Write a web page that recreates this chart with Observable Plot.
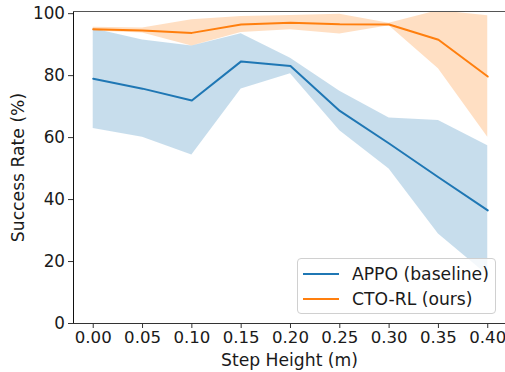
<!DOCTYPE html>
<html>
<head>
<meta charset="utf-8">
<script src="https://cdn.jsdelivr.net/npm/d3@7"></script>
<script src="https://cdn.jsdelivr.net/npm/@observablehq/plot@0.6"></script>
<style>
  html, body { margin: 0; padding: 0; background: #fff; overflow: hidden; }
  #wrap { position: relative; width: 505px; height: 372px; font-family: "DejaVu Sans", sans-serif; }
  #legend { position: absolute; left: 297px; top: 258px; width: 199px; height: 56px;
    border: 1px solid #d0d0d0; border-radius: 4px; background: rgba(255,255,255,0.8); box-sizing: border-box; }
  .item { position: absolute; left: 0; height: 20px; display: flex; align-items: center; font-size: 17.2px; color: #1a1a1a; white-space: nowrap; }
  .sw { width: 36px; height: 2px; margin-left: 5px; margin-right: 13px; }
</style>
</head>
<body>
<div id="wrap"></div>
<script>
const steps = [0.00, 0.05, 0.10, 0.15, 0.20, 0.25, 0.30, 0.35, 0.40];
const appoMean = [79.0, 75.8, 72.0, 84.6, 83.1, 68.6, 58.1, 47.2, 36.5];
const appoStd  = [16.1, 15.7, 17.6, 8.9, 2.5, 6.4, 8.2, 18.3, 20.9];
const ctoMean  = [95.0, 94.6, 93.8, 96.5, 97.1, 96.6, 96.5, 91.6, 79.7];
const ctoStd   = [0.6, 0.8, 4.2, 2.6, 2.3, 3.2, 0.4, 9.4, 19.6];
const seriesNames = ["APPO (baseline)", "CTO-RL (ours)"];
const seriesColors = ["#1f77b4", "#ff7f0e"];
const yTicks = [0, 20, 40, 60, 80, 100];

const appo = steps.map((s, i) => ({step: s, mean: appoMean[i], sd: appoStd[i]}));
const cto = steps.map((s, i) => ({step: s, mean: ctoMean[i], sd: ctoStd[i]}));

const chart = Plot.plot({
  width: 505,
  height: 372,
  marginLeft: 73,
  marginRight: 0,
  marginTop: 11,
  marginBottom: 49,
  style: {fontFamily: "DejaVu Sans, sans-serif", fontSize: "17.2px", color: "#1a1a1a", background: "#fff"},
  x: {domain: [-0.02, 0.418]},
  y: {domain: [0, 100.7]},
  marks: [
    Plot.areaY(appo, {x: "step", y1: d => d.mean - d.sd, y2: d => d.mean + d.sd, fill: seriesColors[0], fillOpacity: 0.25, clip: true}),
    Plot.lineY(appo, {x: "step", y: "mean", stroke: seriesColors[0], strokeWidth: 2, clip: true}),
    Plot.areaY(cto, {x: "step", y1: d => d.mean - d.sd, y2: d => d.mean + d.sd, fill: seriesColors[1], fillOpacity: 0.25, clip: true}),
    Plot.lineY(cto, {x: "step", y: "mean", stroke: seriesColors[1], strokeWidth: 2, clip: true}),
    Plot.frame({anchor: "left", stroke: "#111"}),
    Plot.frame({anchor: "bottom", stroke: "#333"}),
    Plot.frame({anchor: "top", stroke: "#555"}),
    Plot.axisX(steps, {tickFormat: d3.format(".2f"), tickSize: 5, tickPadding: 3, label: null, stroke: "#333", fontSize: 16.6}),
    Plot.axisY(yTicks, {tickSize: 5, tickPadding: 3.5, label: null, stroke: "#333", fontSize: 16.8}),
    Plot.text(["Step Height (m)"], {frameAnchor: "bottom", lineAnchor: "middle", dy: 37, fill: "#1a1a1a"}),
    Plot.text(["Success Rate (%)"], {frameAnchor: "left", textAnchor: "middle", lineAnchor: "middle", rotate: -90, dx: -55, fill: "#1a1a1a"})
  ]
});

const wrap = document.getElementById("wrap");
wrap.appendChild(chart);
const legend = document.createElement("div");
legend.id = "legend";
seriesNames.forEach((name, i) => {
  const item = document.createElement("div");
  item.className = "item";
  item.style.top = (5 + i * 25) + "px";
  const sw = document.createElement("div");
  sw.className = "sw";
  sw.style.background = seriesColors[i];
  const t = document.createElement("span");
  t.textContent = name;
  item.appendChild(sw);
  item.appendChild(t);
  legend.appendChild(item);
});
wrap.appendChild(legend);
</script>
</body>
</html>
